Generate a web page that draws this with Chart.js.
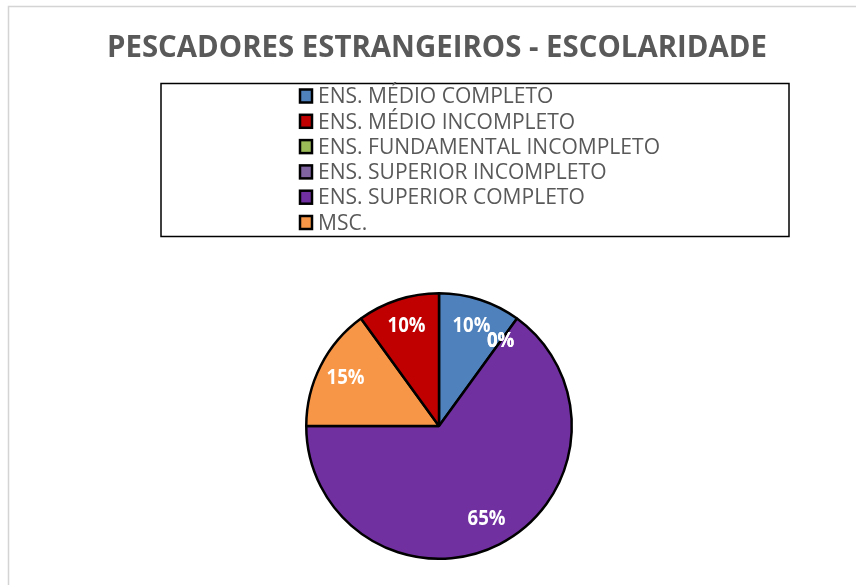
<!DOCTYPE html>
<html>
<head>
<meta charset="utf-8">
<script src="https://cdn.jsdelivr.net/npm/chart.js@4/dist/chart.umd.min.js"></script>
<style>
  html, body { margin: 0; padding: 0; background: #ffffff; }
  #wrap { position: relative; width: 856px; height: 585px; }
</style>
</head>
<body>
<div id="wrap"><canvas id="c" width="856" height="585"></canvas></div>
<script>
// ---- data (legend order) ----
const chartTitle = 'PESCADORES ESTRANGEIROS - ESCOLARIDADE';
const categories = [
  'ENS. MÉDIO COMPLETO',
  'ENS. MÉDIO INCOMPLETO',
  'ENS. FUNDAMENTAL INCOMPLETO',
  'ENS. SUPERIOR INCOMPLETO',
  'ENS. SUPERIOR COMPLETO',
  'MSC.'
];
const values = [10, 10, 0, 0, 65, 15];
const colors = ['#4F81BD', '#C00000', '#9BBB59', '#8064A2', '#7030A0', '#F79646'];
// clockwise drawing order of the slices, as seen in the picture
const sliceOrder = [0, 2, 3, 4, 5, 1];

const sliceLabels = sliceOrder.map(i => categories[i]);
const sliceValues = sliceOrder.map(i => values[i]);
const sliceColors = sliceOrder.map(i => colors[i]);

const TEXT_GRAY = '#595959';

function drawCondensed(ctx, text, x, y, font, targetWidthRef, refText, align) {
  ctx.save();
  ctx.font = font;
  const refW = ctx.measureText(refText).width;
  const sx = Math.min(1, targetWidthRef / refW);
  ctx.translate(x, y);
  ctx.scale(sx, 1);
  ctx.textAlign = align;
  ctx.fillText(text, 0, 0);
  ctx.restore();
}

const decorPlugin = {
  id: 'decor',
  beforeDraw(chart) {
    const ctx = chart.ctx;
    ctx.save();
    ctx.fillStyle = '#ffffff';
    ctx.fillRect(0, 0, chart.width, chart.height);
    // outer chart frame (only left/top visible)
    ctx.strokeStyle = '#d4d4d4';
    ctx.lineWidth = 1.5;
    ctx.strokeRect(8.5, 6.5, 1000, 1000);
    // title
    ctx.fillStyle = TEXT_GRAY;
    ctx.textBaseline = 'alphabetic';
    drawCondensed(ctx, chartTitle, 437, 57, 'bold 31px "Open Sans"', 660, chartTitle, 'center');
    // legend box
    ctx.strokeStyle = '#000000';
    ctx.lineWidth = 1.5;
    ctx.strokeRect(161, 83.5, 628, 153);
    // legend items
    const rowY0 = 96, rowStep = 25.3;
    categories.forEach((name, i) => {
      const cy = rowY0 + i * rowStep;
      ctx.fillStyle = colors[i];
      ctx.fillRect(300, cy - 6.5, 12, 13);
      ctx.strokeStyle = '#000000';
      ctx.lineWidth = 2.5;
      ctx.strokeRect(300, cy - 6.5, 12, 13);
      ctx.fillStyle = TEXT_GRAY;
      ctx.textBaseline = 'middle';
      drawCondensed(ctx, name, 318, cy + 1, '22px "Open Sans"', 342, 'ENS. FUNDAMENTAL INCOMPLETO', 'left');
    });
    ctx.restore();
  },
  afterDatasetsDraw(chart) {
    const ctx = chart.ctx;
    const meta = chart.getDatasetMeta(0);
    ctx.save();
    ctx.fillStyle = '#ffffff';
    ctx.textBaseline = 'middle';
    meta.data.forEach((arc, i) => {
      const p = arc.getProps(['x', 'y', 'startAngle', 'endAngle', 'outerRadius'], true);
      const mid = (p.startAngle + p.endAngle) / 2;
      const r = p.outerRadius * 0.79;
      const lx = p.x + Math.cos(mid) * r;
      const ly = p.y + Math.sin(mid) * r;
      const txt = sliceValues[i] + '%';
      drawCondensed(ctx, txt, lx, ly, 'bold 21px "Open Sans"', 38, '65%', 'center');
    });
    ctx.restore();
  }
};

new Chart(document.getElementById('c'), {
  type: 'pie',
  data: {
    labels: sliceLabels,
    datasets: [{
      data: sliceValues,
      backgroundColor: sliceColors,
      borderColor: '#000000',
      borderWidth: 2.5
    }]
  },
  options: {
    responsive: false,
    animation: false,
    layout: { padding: { left: 305, right: 283, top: 292, bottom: 25 } },
    plugins: {
      legend: { display: false },
      title: { display: false },
      tooltip: { enabled: false }
    }
  },
  plugins: [decorPlugin]
});
</script>
</body>
</html>
